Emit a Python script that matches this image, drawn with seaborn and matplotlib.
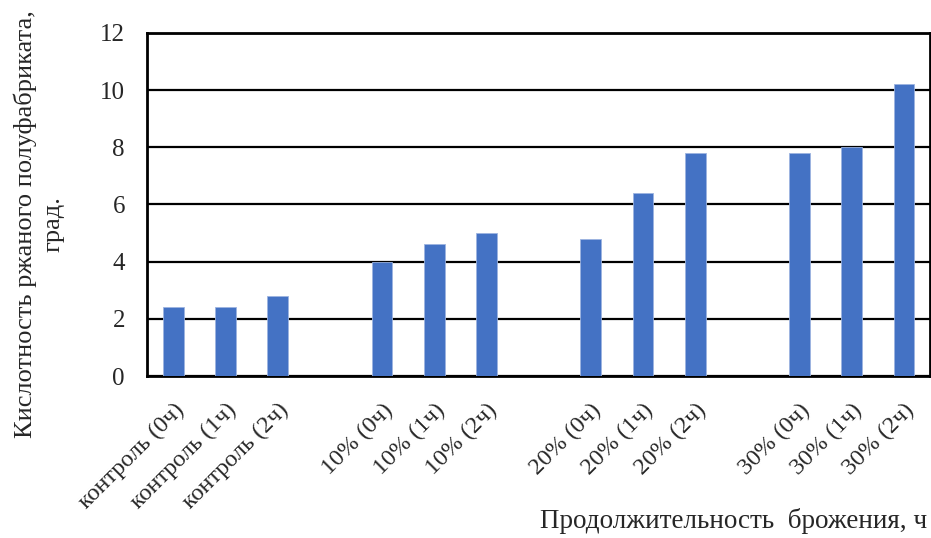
import matplotlib
matplotlib.use("Agg")
import matplotlib.pyplot as plt
import seaborn as sns
import pandas as pd
import numpy as np

# Sample groups; empty strings mark the gaps between additive levels
categories = [
    "контроль (0ч)", "контроль (1ч)", "контроль (2ч)", "",
    "10% (0ч)", "10% (1ч)", "10% (2ч)", "",
    "20% (0ч)", "20% (1ч)", "20% (2ч)", "",
    "30% (0ч)", "30% (1ч)", "30% (2ч)",
]
acidity = [
    2.4, 2.4, 2.8, np.nan,
    4.0, 4.6, 5.0, np.nan,
    4.8, 6.4, 7.8, np.nan,
    7.8, 8.0, 10.2,
]
y_ticks = [0, 2, 4, 6, 8, 10, 12]

# unique keys so the gap slots stay separate on the categorical axis
keys = [c if c else f"_gap{i}" for i, c in enumerate(categories)]
df = pd.DataFrame({"key": keys, "value": acidity})

sns.set_theme(style="white")
plt.rcParams["font.family"] = ["Liberation Serif", "DejaVu Serif"]

fig = plt.figure(figsize=(9.31, 5.38), dpi=100)
ax = fig.add_axes([0.158, 0.301, 0.841, 0.638])

sns.barplot(data=df, x="key", y="value", order=keys, color="#4472C4",
            saturation=1, width=0.4, edgecolor="#9db4e0", linewidth=0.6,
            ax=ax, zorder=3)

ax.set_ylim(0, 12)
ax.set_yticks(y_ticks)
ax.set_yticklabels([str(t) for t in y_ticks], fontsize=18)
ax.yaxis.grid(True, color="black", linewidth=1.6, zorder=1)
ax.set_axisbelow(True)

ax.set_xticks(range(len(categories)))
ax.set_xticklabels(categories, rotation=45, ha="right", va="top",
                   rotation_mode="anchor", fontsize=17.5)
ax.tick_params(axis="x", length=0, pad=17)
ax.tick_params(axis="y", length=0, pad=16)

for side in ["left", "right", "top", "bottom"]:
    ax.spines[side].set_visible(True)
    ax.spines[side].set_color("black")
    ax.spines[side].set_linewidth(2)

ax.set_xlabel("")
ax.set_ylabel("")
fig.text(0.042, 0.584, "Кислотность ржаного полуфабриката,\nград.",
         rotation=90, ha="center", va="center", multialignment="center",
         fontsize=19, linespacing=1.3)
fig.text(0.996, 0.0186, "Продолжительность  брожения, ч", ha="right",
         va="baseline", fontsize=19.5)

fig.savefig("out.png", dpi=100)
